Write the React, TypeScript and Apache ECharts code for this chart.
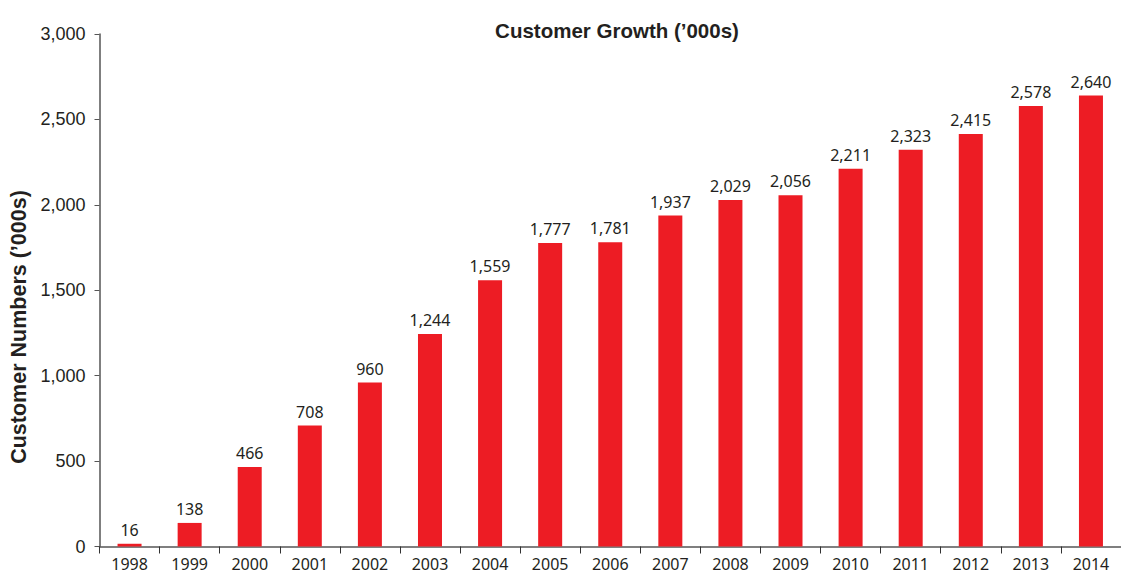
import React, { useEffect, useRef } from "react";
import * as echarts from "echarts";

const years = ["1998","1999","2000","2001","2002","2003","2004","2005","2006","2007","2008","2009","2010","2011","2012","2013","2014"];
const customers = [16,138,466,708,960,1244,1559,1777,1781,1937,2029,2056,2211,2323,2415,2578,2640];
const yTicks = [0, 500, 1000, 1500, 2000, 2500, 3000];

export default function App() {
  const ref = useRef<HTMLDivElement>(null);
  useEffect(() => {
    if (!ref.current) return;
    const chart = echarts.init(ref.current, null, { renderer: "svg" });
    chart.setOption({
      animation: false,
      backgroundColor: "#ffffff",
      title: {
        text: "Customer Growth (\u2019000s)",
        left: 612,
        textAlign: "center",
        top: 15,
        textStyle: { fontFamily: "Liberation Sans, Arial", fontWeight: "bold", fontSize: 20.5, color: "#231f20" },
      },
      graphic: [
        {
          type: "text",
          x: 19,
          y: 327,
          rotation: Math.PI / 2,
          style: {
            text: "Customer Numbers (\u2019000s)",
            fontFamily: "Liberation Sans, Arial",
            fontWeight: "bold",
            fontSize: 21.5,
            fill: "#231f20",
            align: "center",
            verticalAlign: "middle",
          },
        },
      ],
      grid: { left: 99.5, top: 34, width: 1028.5, bottom: 29.5, containLabel: false },
      xAxis: {
        type: "category",
        data: years,
        axisLine: { lineStyle: { color: "#555555", width: 1.5 } },
        axisTick: { show: true, alignWithLabel: false, length: 7, lineStyle: { color: "#333333" } },
        axisLabel: { fontFamily: "Noto Sans", fontSize: 16, lineHeight: 16, color: "#231f20", margin: 9 },
      },
      yAxis: {
        type: "value",
        min: yTicks[0],
        max: yTicks[yTicks.length - 1],
        interval: 500,
        axisLine: { show: true, lineStyle: { color: "#555555", width: 1.5 } },
        axisTick: { show: true, length: 5, lineStyle: { color: "#555555" } },
        splitLine: { show: false },
        axisLabel: {
          fontFamily: "Liberation Sans, Arial",
          fontSize: 18,
          color: "#231f20",
          margin: 14,
          formatter: (v: number) => v.toLocaleString("en-US"),
        },
      },
      series: [
        {
          type: "bar",
          data: customers,
          barWidth: 24,
          itemStyle: { color: "#ed1c24" },
          label: {
            show: true,
            position: "top",
            distance: 6,
            fontFamily: "Noto Sans",
            fontSize: 16,
            color: "#231f20",
            formatter: (p: any) => Number(p.value).toLocaleString("en-US"),
          },
        },
      ],
    });
    return () => chart.dispose();
  }, []);
  return <div ref={ref} style={{ position: "absolute", left: 0, top: 0, width: 1121, height: 576 }} />;
}
